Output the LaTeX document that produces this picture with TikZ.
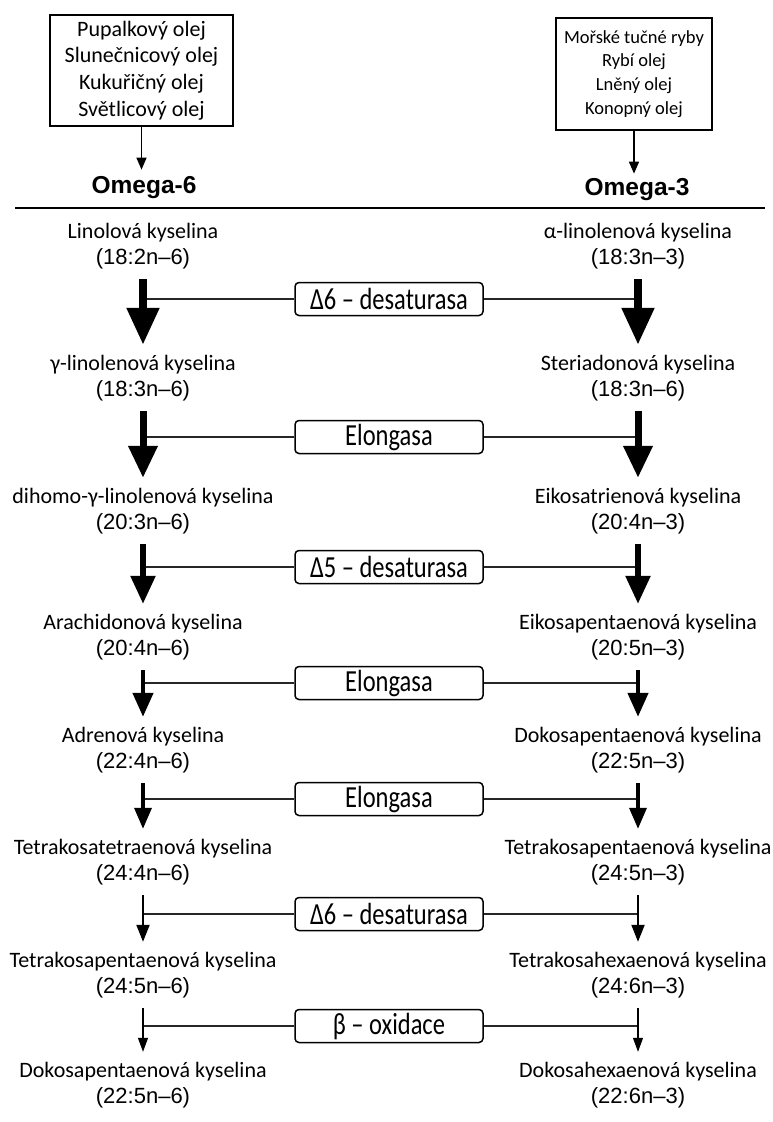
\documentclass[tikz,border=0pt]{standalone}
\usepackage{fontspec}
\setmainfont{Carlito}
\newfontfamily\numfont{Liberation Sans}
\usetikzlibrary{arrows.meta}

\begin{document}
\begin{tikzpicture}[x=1pt,y=-1pt,
    acid/.style={font=\fontsize{22}{26}\selectfont, inner xsep=0pt, inner ysep=10pt, text height=15pt, text depth=5pt},
    formula/.style={font=\numfont\fontsize{22}{26}\selectfont, inner xsep=0pt, inner ysep=10pt, text height=15pt, text depth=5pt},
    enzyme/.style={draw, line width=1.5pt, rounded corners=4pt, minimum width=188pt, minimum height=33pt, inner sep=0pt, fill=white, font=\fontsize{24.5}{24.5}\selectfont},
    link/.style={line width=2pt, black!85},
    srcbox/.style={draw, line width=1.8pt, align=center, inner sep=0pt},
    omega/.style={font=\numfont\bfseries\fontsize{24.5}{24.5}\selectfont, inner sep=2pt}]
  \useasboundingbox (0,0) rectangle (773,1122);

  % food sources
  \node[srcbox, minimum width=183pt, minimum height=111pt, font=\fontsize{22}{26.7}\selectfont] (src6) at (141.5,70.5)
    {Pupalkový olej\\Slunečnicový olej\\Kukuřičný olej\\Světlicový olej};
  \node[srcbox, minimum width=156pt, minimum height=112pt, font=\fontsize{18.5}{23.7}\selectfont] (src3) at (634,74)
    {Mořské tučné ryby\\Rybí olej\\Lněný olej\\Konopný olej};
  \node[omega] (om6) at (144,188) {Omega-6};
  \node[omega] (om3) at (637,190) {Omega-3};
  \draw[line width=1.5pt, -{Triangle[width=10pt,length=12pt]}, shorten >=5pt] (src6.south) -- (src6.south |- om6.north);
  \draw[line width=1.5pt, -{Triangle[width=10pt,length=12pt]}, shorten >=3pt] (src3.south) -- (src3.south |- om3.north);
  \draw[line width=2.5pt] (15,208) -- (765,208);

  % fatty acids, omega-6 left and omega-3 right
  \foreach \i/\y/\lname/\lform/\rname/\rform in {
      1/233/Linolová kyselina/(18:2n–6)/α-linolenová kyselina/(18:3n–3),
      2/365/γ-linolenová kyselina/(18:3n–6)/Steriadonová kyselina/(18:3n–6),
      3/498/dihomo-γ-linolenová kyselina/(20:3n–6)/Eikosatrienová kyselina/(20:4n–3),
      4/624/Arachidonová kyselina/(20:4n–6)/Eikosapentaenová kyselina/(20:5n–3),
      5/737/Adrenová kyselina/(22:4n–6)/Dokosapentaenová kyselina/(22:5n–3),
      6/849/Tetrakosatetraenová kyselina/(24:4n–6)/Tetrakosapentaenová kyselina/(24:5n–3),
      7/962/Tetrakosapentaenová kyselina/(24:5n–6)/Tetrakosahexaenová kyselina/(24:6n–3),
      8/1072/Dokosapentaenová kyselina/(22:5n–6)/Dokosahexaenová kyselina/(22:6n–3)} {
      \node[acid] (l\i) at (143,\y) {\lname};
      \node[formula] (lf\i) at (143,\y+26) {\lform};
      \node[acid] (r\i) at (638,\y) {\rname};
      \node[formula] (rf\i) at (638,\y+26) {\rform};
    }

  % enzymes
  \foreach \i/\y/\ename in {1/299/{Δ6 – desaturasa}, 2/437/Elongasa, 3/567/{Δ5 – desaturasa},
      4/683/Elongasa, 5/799/Elongasa, 6/914/{Δ6 – desaturasa}, 7/1026/{β – oxidace}} {
      \node[enzyme] (e\i) at (389,\y) {\scalebox{1}[1.25]{\ename}};
    }

  % steps, thinner further down
  \foreach \i/\j/\lw/\hw/\hl in {1/2/8/31/37, 2/3/7/28/32, 3/4/5.5/24/28, 4/5/4.5/20/24,
      5/6/3.5/17/21, 6/7/2/13/17, 7/8/1.2/10/14} {
      \draw[link] (e\i.west) -- (e\i.west -| lf\i.south);
      \draw[link] (e\i.east) -- (e\i.east -| rf\i.south);
      \draw[line width=\lw pt, -{Triangle[width=\hw pt,length=\hl pt]}] (lf\i.south) -- (l\j.north);
      \draw[line width=\lw pt, -{Triangle[width=\hw pt,length=\hl pt]}] (rf\i.south) -- (r\j.north);
    }
\end{tikzpicture}
\end{document}
